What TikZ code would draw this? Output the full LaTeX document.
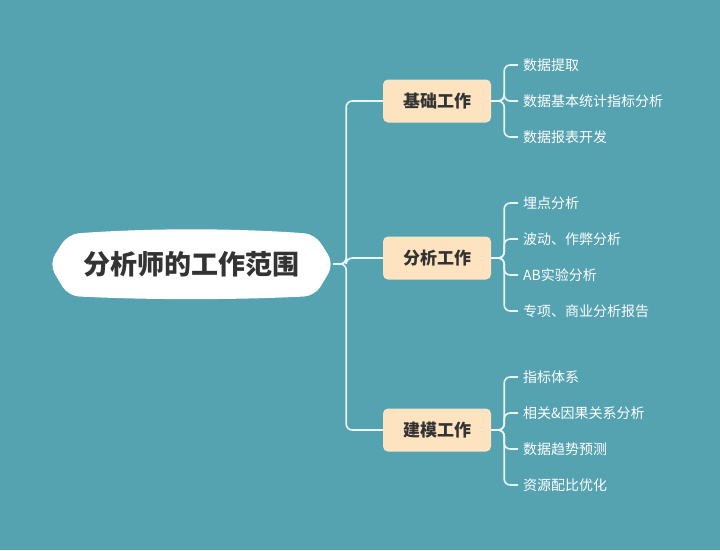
\documentclass[tikz,border=0pt]{standalone}
\usepackage{fontspec}
\setmainfont{Noto Sans CJK SC}
\definecolor{bg}{HTML}{55A2B1}
\definecolor{midfill}{HTML}{FDE3BF}
\definecolor{darktext}{HTML}{333333}
\definecolor{linecol}{HTML}{EAF5F7}
\tikzset{
  midbox/.style={fill=midfill, rounded corners=5pt, minimum width=108pt, minimum height=43pt, inner sep=0pt,
    text=darktext, font=\fontsize{17}{20}\selectfont\bfseries},
  leaf/.style={anchor=west, inner xsep=5pt, inner ysep=0pt, text=white, font=\fontsize{14}{16}\selectfont},
  conn/.style={draw=linecol, line width=1.6pt, rounded corners=6pt},
}
\begin{document}
\begin{tikzpicture}[x=1pt,y=-1pt]
\fill[bg] (0,0) rectangle (720,550);
\useasboundingbox (0,0) rectangle (720,550);
% root shape
\fill[white, rounded corners=11pt] (49,264) -- (68,234) .. controls (150,228) and (233,228) .. (315,234) -- (334,264) -- (315,296) .. controls (233,300) and (150,300) .. (68,296) -- cycle;
\node[minimum width=283pt, minimum height=62pt, inner sep=0pt, text=darktext, font=\fontsize{27}{30}\selectfont\bfseries] (root) at (191.5,264) {分析师的工作范围};
% mid nodes
\node[midbox] (m1) at (437,101) {基础工作};
\node[midbox] (m2) at (437,258) {分析工作};
\node[midbox] (m3) at (437,430) {建模工作};
% leaves
\node[leaf] (a1) at (518,65) {数据提取};
\node[leaf] (a2) at (518,101) {数据基本统计指标分析};
\node[leaf] (a3) at (518,137) {数据报表开发};
\node[leaf] (b1) at (518,203) {埋点分析};
\node[leaf] (b2) at (518,239) {波动、作弊分析};
\node[leaf] (b3) at (518,275) {AB实验分析};
\node[leaf] (b4) at (518,311) {专项、商业分析报告};
\node[leaf] (c1) at (518,377) {指标体系};
\node[leaf] (c2) at (518,413) {相关\&因果关系分析};
\node[leaf] (c3) at (518,449) {数据趋势预测};
\node[leaf] (c4) at (518,485) {资源配比优化};
% connectors
\foreach \m in {m1,m2,m3}{
  \draw[conn] (root.east) -- ++(13,0) |- (\m.west);
}
\foreach \l in {a1,a2,a3}{
  \draw[conn] (m1.east) -- ++(13,0) |- (\l.west);
}
\foreach \l in {b1,b2,b3,b4}{
  \draw[conn] (m2.east) -- ++(13,0) |- (\l.west);
}
\foreach \l in {c1,c2,c3,c4}{
  \draw[conn] (m3.east) -- ++(13,0) |- (\l.west);
}
\end{tikzpicture}
\end{document}
